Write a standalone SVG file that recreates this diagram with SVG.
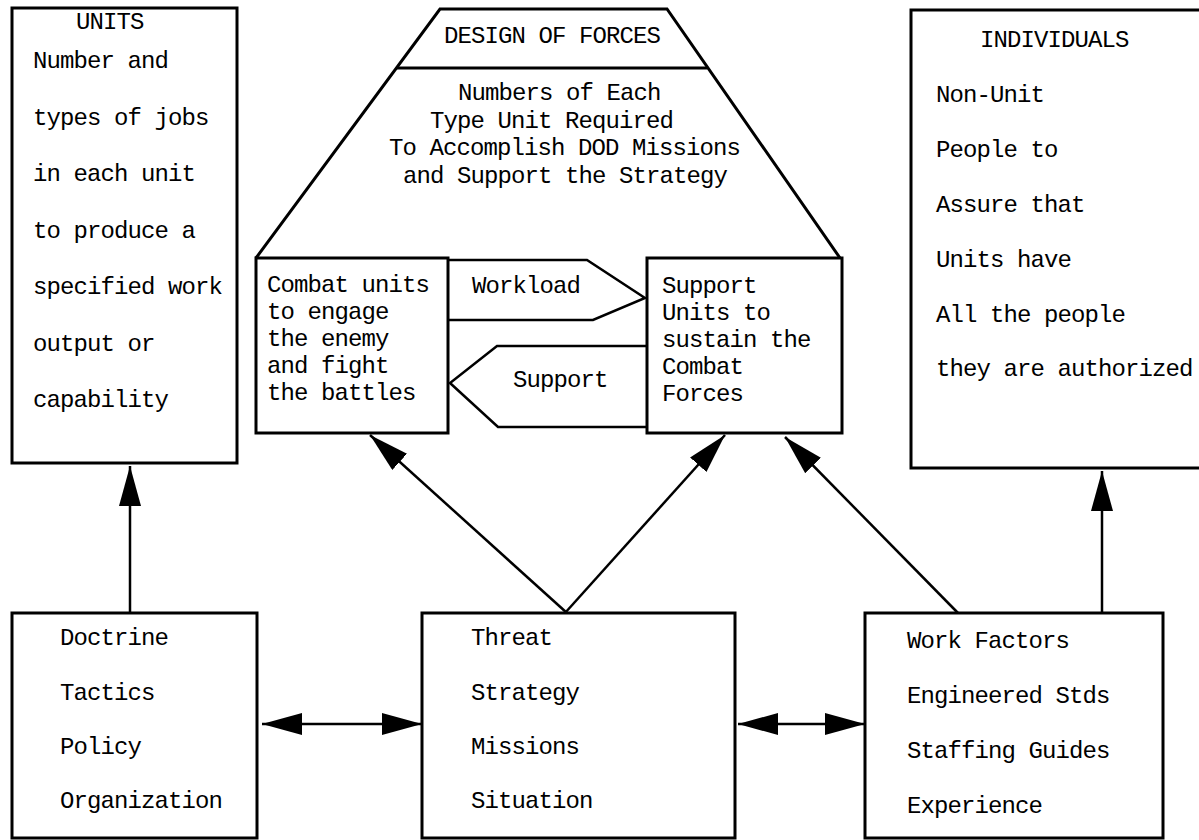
<svg xmlns="http://www.w3.org/2000/svg" width="1199" height="840" viewBox="0 0 1199 840">
<style>
  .box { fill: none; stroke: #000; stroke-width: 3; }
  .ln { fill: none; stroke: #000; stroke-width: 2.5; }
  .t { font-family: "Liberation Mono", "DejaVu Sans Mono", monospace; font-size: 24px; letter-spacing: -0.9px; fill: #000; }
</style>
<defs>
  <marker id="ah" markerUnits="userSpaceOnUse" markerWidth="42" markerHeight="24" refX="40" refY="11" orient="auto-start-reverse">
    <path d="M0,0 L40,11 L0,22 z" fill="#000"/>
  </marker>
</defs>
<rect width="1199" height="840" fill="#fff"/>

<g id="units">
  <rect class="box" x="12" y="8" width="225" height="455"/>
  <text class="t" x="76" y="29">UNITS</text>
  <text class="t" x="33" y="68">Number and</text>
  <text class="t" x="33" y="124.5">types of jobs</text>
  <text class="t" x="33" y="181">in each unit</text>
  <text class="t" x="33" y="237.5">to produce a</text>
  <text class="t" x="33" y="294">specified work</text>
  <text class="t" x="33" y="350.5">output or</text>
  <text class="t" x="33" y="407">capability</text>
</g>

<g id="design-of-forces">
  <path class="box" d="M256,258 L440,9 L667,9 L840,258"/>
  <line class="box" x1="397" y1="68" x2="707" y2="68"/>
  <text class="t" x="444" y="43">DESIGN OF FORCES</text>
  <text class="t" x="458" y="100">Numbers of Each</text>
  <text class="t" x="430" y="128">Type Unit Required</text>
  <text class="t" x="389" y="155">To Accomplish DOD Missions</text>
  <text class="t" x="403" y="183">and Support the Strategy</text>
</g>

<g id="combat-units">
  <rect class="box" x="256" y="258" width="192" height="175"/>
  <text class="t" x="267" y="292">Combat units</text>
  <text class="t" x="267" y="319">to engage</text>
  <text class="t" x="267" y="346">the enemy</text>
  <text class="t" x="267" y="373">and fight</text>
  <text class="t" x="267" y="400">the battles</text>
</g>

<g id="support-units">
  <rect class="box" x="647" y="258" width="195" height="175"/>
  <text class="t" x="662" y="293">Support</text>
  <text class="t" x="662" y="320">Units to</text>
  <text class="t" x="662" y="347">sustain the</text>
  <text class="t" x="662" y="374">Combat</text>
  <text class="t" x="662" y="401">Forces</text>
</g>

<g id="individuals">
  <rect class="box" x="911" y="10" width="300" height="458"/>
  <text class="t" x="980" y="47">INDIVIDUALS</text>
  <text class="t" x="936" y="102">Non-Unit</text>
  <text class="t" x="936" y="157">People to</text>
  <text class="t" x="936" y="212">Assure that</text>
  <text class="t" x="936" y="267">Units have</text>
  <text class="t" x="936" y="322">All the people</text>
  <text class="t" x="936" y="376">they are authorized</text>
</g>

<g id="doctrine">
  <rect class="box" x="12" y="613" width="245" height="225"/>
  <text class="t" x="60" y="645">Doctrine</text>
  <text class="t" x="60" y="700">Tactics</text>
  <text class="t" x="60" y="754">Policy</text>
  <text class="t" x="60" y="808">Organization</text>
</g>

<g id="threat">
  <rect class="box" x="422" y="613" width="313" height="225"/>
  <text class="t" x="471" y="645">Threat</text>
  <text class="t" x="471" y="700">Strategy</text>
  <text class="t" x="471" y="754">Missions</text>
  <text class="t" x="471" y="808">Situation</text>
</g>

<g id="work-factors">
  <rect class="box" x="865" y="613" width="298" height="225"/>
  <text class="t" x="907" y="648">Work Factors</text>
  <text class="t" x="907" y="703">Engineered Stds</text>
  <text class="t" x="907" y="758">Staffing Guides</text>
  <text class="t" x="907" y="813">Experience</text>
</g>

<g id="connectors">
  <path class="ln" d="M448,260 L587,260 L645,298 L593,320 L448,320"/>
  <text class="t" x="472" y="293">Workload</text>
  <path class="ln" d="M647,346 L497,346 L450,383 L498,427 L647,427"/>
  <text class="t" x="513" y="387">Support</text>

  <line class="ln" x1="130" y1="613" x2="130" y2="466" marker-end="url(#ah)"/>
  <line class="ln" x1="567" y1="613" x2="370" y2="435" marker-end="url(#ah)"/>
  <line class="ln" x1="565" y1="613" x2="725" y2="435" marker-end="url(#ah)"/>
  <line class="ln" x1="958" y1="613" x2="785" y2="437" marker-end="url(#ah)"/>
  <line class="ln" x1="1102" y1="613" x2="1102" y2="471" marker-end="url(#ah)"/>
  <line class="ln" x1="262" y1="724" x2="422" y2="724" marker-start="url(#ah)" marker-end="url(#ah)"/>
  <line class="ln" x1="738" y1="724" x2="865" y2="724" marker-start="url(#ah)" marker-end="url(#ah)"/>
</g>
</svg>
